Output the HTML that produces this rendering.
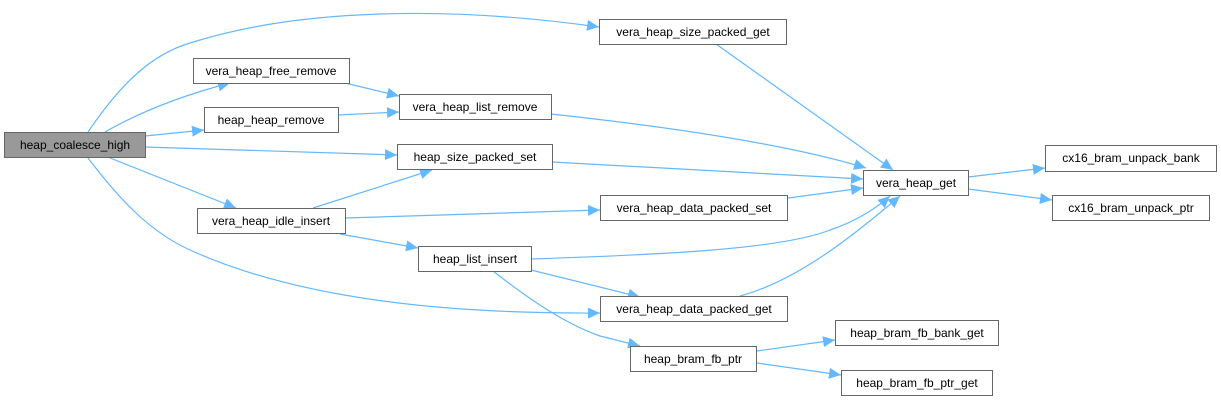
<!DOCTYPE html>
<html><head><meta charset="utf-8"><style>
html,body{margin:0;padding:0;background:#fff;}
svg{display:block;}
text{font-family:"Liberation Sans",Arial,sans-serif;font-size:12px;fill:#000;}
</style></head><body>
<svg width="1221" height="401" viewBox="0 0 1221 401" xmlns="http://www.w3.org/2000/svg">
<defs>
<marker id="a" markerUnits="userSpaceOnUse" markerWidth="13" markerHeight="11" refX="12" refY="5.5" orient="auto">
<path d="M0,0 L12,5.5 L0,11 Z" fill="#63b8ff"/>
</marker>
</defs>
<g fill="none" stroke="#63b8ff" stroke-width="1.2" marker-end="url(#a)">
<path d="M88,132 C120,85 150,55 190,43 C300,8 450,6 599,27"/>
<path d="M105,132 C140,112 180,96 230,83"/>
<path d="M145,136 L204,130"/>
<path d="M145,147 L397,155"/>
<path d="M110,158 L236,208"/>
<path d="M88,158 C120,200 150,232 190,250 C300,300 450,314 600,313"/>
<path d="M345,83 L399,96"/>
<path d="M338,115 L399,112"/>
<path d="M551,114 C680,128 790,145 866,168"/>
<path d="M552,162 L863,179"/>
<path d="M313,208 L432,170"/>
<path d="M345,218 L600,210"/>
<path d="M340,234 L418,248"/>
<path d="M531,259 C650,255 780,250 830,230 C860,220 880,205 890,196"/>
<path d="M531,270 L640,297"/>
<path d="M493,271 C520,292 560,322 600,336 L640,346"/>
<path d="M716,44 L893,170"/>
<path d="M788,198 L863,188"/>
<path d="M740,296 C800,280 860,230 900,196"/>
<path d="M968,177 L1045,168"/>
<path d="M968,189 L1052,200"/>
<path d="M757,351 L835,340"/>
<path d="M757,363 L841,375"/>
</g>
<g stroke="#666" stroke-width="1">
<rect x="4.5" y="132.5" width="141" height="25" fill="#999"/>
<rect x="599.5" y="19.5" width="187" height="25" fill="#fff"/>
<rect x="193.5" y="58.5" width="156" height="25" fill="#fff"/>
<rect x="204.5" y="107.5" width="134" height="25" fill="#fff"/>
<rect x="399.5" y="94.5" width="152" height="25" fill="#fff"/>
<rect x="397.5" y="144.5" width="155" height="25" fill="#fff"/>
<rect x="197.5" y="208.5" width="148" height="25" fill="#fff"/>
<rect x="418.5" y="246.5" width="113" height="25" fill="#fff"/>
<rect x="863.5" y="170.5" width="105" height="25" fill="#fff"/>
<rect x="1045.5" y="145.5" width="171" height="26" fill="#fff"/>
<rect x="1052.5" y="195.5" width="157" height="25" fill="#fff"/>
<rect x="600.5" y="195.5" width="187" height="25" fill="#fff"/>
<rect x="600.5" y="296.5" width="187" height="25" fill="#fff"/>
<rect x="630.5" y="346.5" width="126" height="25" fill="#fff"/>
<rect x="835.5" y="320.5" width="163" height="25" fill="#fff"/>
<rect x="841.5" y="370.5" width="151" height="25" fill="#fff"/>
</g>
<g text-anchor="middle">
<text x="75" y="149">heap_coalesce_high</text>
<text x="693" y="36">vera_heap_size_packed_get</text>
<text x="271" y="75">vera_heap_free_remove</text>
<text x="271" y="124">heap_heap_remove</text>
<text x="475" y="111">vera_heap_list_remove</text>
<text x="475" y="161">heap_size_packed_set</text>
<text x="271" y="225">vera_heap_idle_insert</text>
<text x="475" y="263">heap_list_insert</text>
<text x="916" y="187">vera_heap_get</text>
<text x="1131" y="162">cx16_bram_unpack_bank</text>
<text x="1131" y="212">cx16_bram_unpack_ptr</text>
<text x="694" y="212">vera_heap_data_packed_set</text>
<text x="694" y="313">vera_heap_data_packed_get</text>
<text x="693" y="363">heap_bram_fb_ptr</text>
<text x="917" y="337">heap_bram_fb_bank_get</text>
<text x="917" y="387">heap_bram_fb_ptr_get</text>
</g>
</svg>
</body></html>
